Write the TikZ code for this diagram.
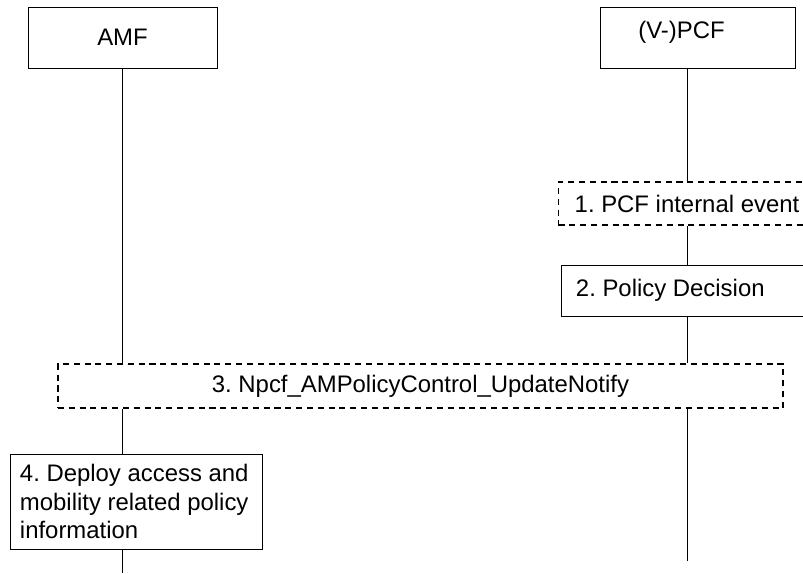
\documentclass[tikz,border=0pt]{standalone}
\usepackage{fontspec}
\setmainfont{Liberation Sans}
\usetikzlibrary{math}
\frenchspacing

\tikzset{
 box/.style={draw, line width=0.6pt, inner sep=0pt, font=\fontsize{17}{20}\selectfont},
 dbox/.style={box, line width=1.1pt, dash pattern=on 4.3pt off 3.4pt},
 life/.style={line width=0.6pt}
}

\begin{document}
\begin{tikzpicture}[x=0.025cm, y=-0.025cm]

\tikzmath{
\xa = 122;%AMF lifeline
\xp = 687;%PCF lifeline
}

\useasboundingbox (0,0) rectangle (803,573);

%entities
\node[box, minimum width=4.725cm, minimum height=1.525cm] (amf) at (122.5,37.5) {AMF};
\node[box, minimum width=4.875cm, minimum height=1.525cm,
 label={[xshift=-0.4cm, yshift=0.13cm, font=\fontsize{17}{20}\selectfont]center:(V-)PCF}] (pcf) at (697.5,37.5) {};

%steps
\node[dbox, minimum width=6.425cm, minimum height=1.075cm] (evt) at (\xp,203.5) {1. PCF internal event};
\node[box, minimum height=1.275cm, inner xsep=0.375cm, text width=5.55cm, align=flush left] (pol) at (\xp,290.5) {2. Policy Decision};
\node[dbox, minimum width=18.125cm, minimum height=1.1cm] (upd) at (420.5,386) {3. Npcf\_AMPolicyControl\_UpdateNotify};
\node[box, minimum height=2.375cm, inner xsep=0.25cm, text width=5.8cm, align=flush left] (dep) at (136,501.5) {4. Deploy access and\\mobility related policy\\information};

\coordinate (pcftop) at (\xp,68);
\coordinate (amfend) at (\xa,573);
\coordinate (pcfend) at (\xp,561);

%lifelines
\draw[life] (amf.south) -- (amf.south |- upd.north);
\draw[life] (upd.south -| amf.south) -- (amf.south |- dep.north);
\draw[life] (dep.south -| amfend) -- (amfend);
\draw[life] (pcftop) -- (evt.north);
\draw[life] (evt.south) -- (pol.north);
\draw[life] (pol.south) -- (pol.south |- upd.north);
\draw[life] (upd.south -| pcfend) -- (pcfend);

\end{tikzpicture}
\end{document}
